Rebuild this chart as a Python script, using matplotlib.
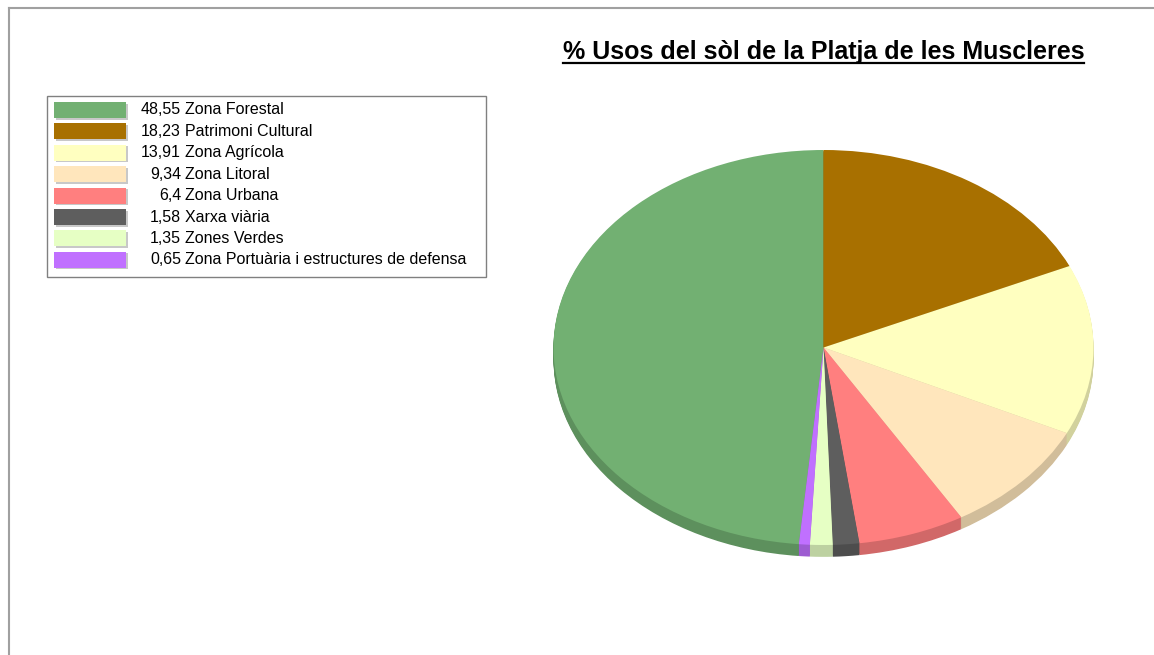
import numpy as np
import matplotlib.pyplot as plt
from matplotlib.colors import to_rgb
from matplotlib.patches import Rectangle
from matplotlib.lines import Line2D

plt.rcParams['font.family'] = ['Liberation Sans', 'DejaVu Sans']

# Dades: percentatge d'usos del sòl
usos = ["Zona Forestal", "Patrimoni Cultural", "Zona Agrícola", "Zona Litoral",
        "Zona Urbana", "Xarxa viària", "Zones Verdes",
        "Zona Portuària i estructures de defensa"]
valors = [48.55, 18.23, 13.91, 9.34, 6.4, 1.58, 1.35, 0.65]
etiquetes_valor = ["48,55", "18,23", "13,91", "9,34", "6,4", "1,58", "1,35", "0,65"]
colors = ["#72b072", "#a87000", "#ffffc0", "#ffe6bc", "#ff7f7f", "#5e5e5e",
          "#e6ffc4", "#c070ff"]

W, H = 1154, 655
fig = plt.figure(figsize=(W / 100, H / 100), dpi=100)

# vora grisa del marc (dalt i esquerra)
fig.add_artist(Line2D([9 / W, 1], [1 - 8 / H, 1 - 8 / H], color="#a0a0a0", lw=1.5))
fig.add_artist(Line2D([9 / W, 9 / W], [0, 1 - 8 / H], color="#a0a0a0", lw=1.5))

# pastís el·líptic amb una mica de gruix; la zona forestal acaba a dalt
cx, cy, rx, ry = 823.5, 347.5, 270, 197.5
ymin, ymax = -1.12, 1.02
ax = fig.add_axes([(cx - rx) / W, (H - cy - (-ymin) * ry) / H,
                   2 * rx / W, (ymax - ymin) * ry / H])

inici = 90 + 360 * valors[0] / sum(valors)
fosc = [tuple(c * 0.82 for c in to_rgb(col)) for col in colors]
gruix = 0.06
for dy in np.linspace(gruix, 0.005, 12):
    ax.pie(valors, colors=fosc, startangle=inici, counterclock=False,
           center=(0, -dy), wedgeprops=dict(linewidth=0))
ax.pie(valors, colors=colors, startangle=inici, counterclock=False,
       wedgeprops=dict(linewidth=0))
ax.set_aspect('auto')
ax.set_xlim(-1, 1)
ax.set_ylim(ymin, ymax)
ax.axis('off')

# títol subratllat
titol = fig.text(cx / W, 1 - 52 / H, "% Usos del sòl de la Platja de les Muscleres",
                 ha="center", va="center", fontsize=18, fontweight="bold")
fig.canvas.draw()
bb = titol.get_window_extent().transformed(fig.transFigure.inverted())
fig.add_artist(Line2D([bb.x0, bb.x1], [bb.y0 + 1 / H, bb.y0 + 1 / H],
                      color="black", lw=1.6))

# llegenda
lax = fig.add_axes([0, 0, 1, 1])
lax.set_xlim(0, W)
lax.set_ylim(H, 0)
lax.axis('off')
lax.add_patch(Rectangle((47, 96), 439, 181, fill=False, edgecolor="#808080", lw=1))
pas = 21.4
for i, (nom, val, col) in enumerate(zip(usos, etiquetes_valor, colors)):
    y = 102 + i * pas
    lax.add_patch(Rectangle((55.5, y + 1.5), 72, 16, facecolor="#c8c8c8",
                            edgecolor="none"))
    lax.add_patch(Rectangle((54, y), 72, 16, facecolor=col, edgecolor="none"))
    lax.text(181, y + 8, val, ha="right", va="center", fontsize=11.5)
    lax.text(185, y + 8, nom, ha="left", va="center", fontsize=11.5)

fig.savefig("out.png", dpi=100)
